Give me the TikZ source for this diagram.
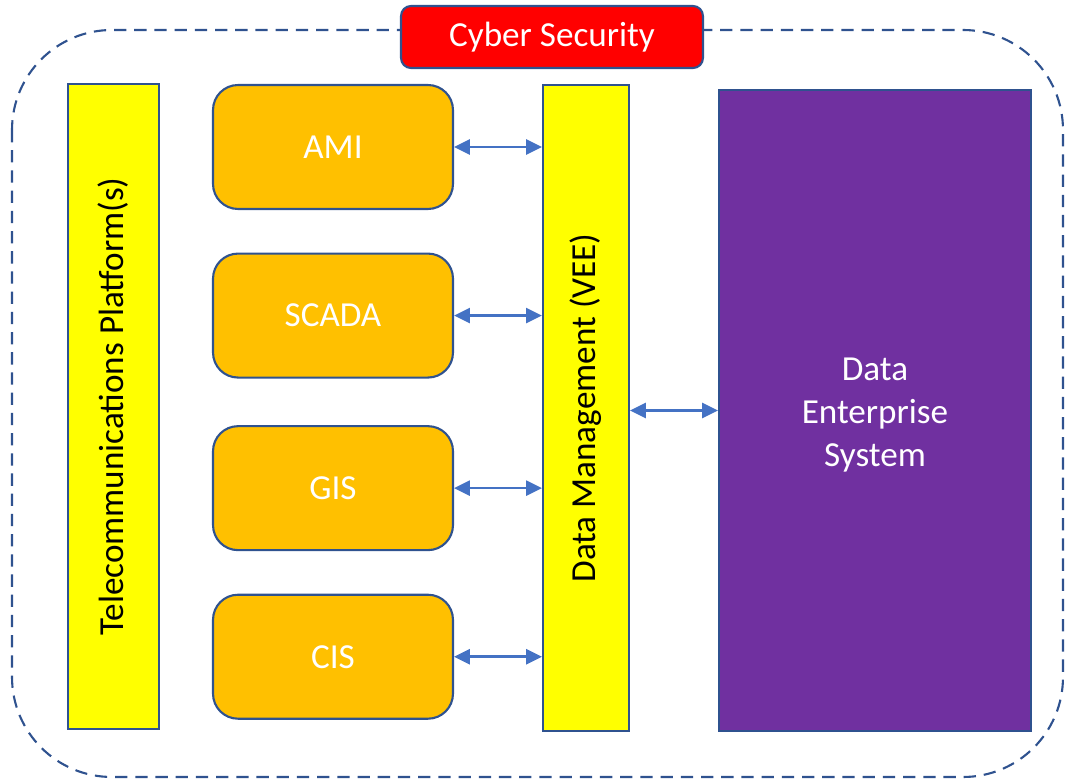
\documentclass[tikz,border=0pt]{standalone}
\usepackage{fontspec}
\setmainfont{Carlito}
\usetikzlibrary{positioning, arrows.meta}
\definecolor{edgeblue}{HTML}{2F528F}
\definecolor{linkblue}{HTML}{4472C4}
\definecolor{amber}{HTML}{FFC000}
\definecolor{violet}{HTML}{7030A0}
\definecolor{lemon}{HTML}{FFFF00}
\definecolor{alarm}{HTML}{FF0000}

\tikzset{
    bar/.style={draw=edgeblue, line width=1.2pt, fill=lemon, minimum height=12.9cm, font=\fontsize{20}{24}\selectfont},
    sysbox/.style={draw=edgeblue, line width=1.2pt, fill=amber, rounded corners=0.5cm, minimum width=4.8cm, minimum height=2.48cm, text=white, font=\fontsize{20}{24}\selectfont},
    link/.style={draw=linkblue, line width=1.5pt, {Triangle[length=9pt,width=8.5pt]}-{Triangle[length=9pt,width=8.5pt]}}
}

\begin{document}
\begin{tikzpicture}[x=0.02cm, y=-0.02cm]
    \useasboundingbox (0,0) rectangle (1066,780);
    % outer boundary
    \draw[edgeblue, line width=1.2pt, dash pattern=on 7pt off 4.5pt, rounded corners=2cm] (12,30) rectangle (1063,777);
    \node[draw=edgeblue, line width=1.2pt, fill=alarm, rounded corners=0.2cm, minimum width=6.04cm, minimum height=1.24cm, text=white, font=\fontsize{20}{24}\selectfont] (cyber) at (552,37) {Cyber Security};

    \node[bar, minimum width=1.82cm] (telecom) at (113.5,406.5) {\rotatebox{90}{Telecommunications Platform(s)}};
    \node[bar, minimum width=1.72cm, minimum height=12.92cm] (vee) at (586,408) {\rotatebox{90}{Data Management (VEE)}};

    \node[sysbox] (ami) at (333,147) {AMI};
    \node[sysbox] (scada) [below=0.85cm of ami] {SCADA};
    \node[sysbox] (gis) [below=0.93cm of scada] {GIS};
    \node[sysbox] (cis) [below=0.85cm of gis] {CIS};

    \node[draw=edgeblue, line width=1.2pt, fill=violet, minimum width=6.24cm, minimum height=12.82cm, text=white, align=center, text height=67pt, font=\fontsize{20}{24.5}\selectfont] (des) at (875,410.5) {Data\\Enterprise\\System};

    \path
    (ami.east) edge[link] (ami.east -| vee.west)
    (scada.east) edge[link] (scada.east -| vee.west)
    (gis.east) edge[link] (gis.east -| vee.west)
    (cis.east) edge[link] (cis.east -| vee.west)
    (vee.east |- des.west) edge[link] (des.west);
\end{tikzpicture}
\end{document}
